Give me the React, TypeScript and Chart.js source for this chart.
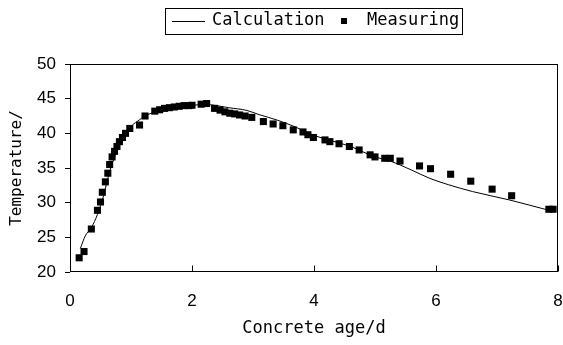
import React, { useEffect, useRef } from "react";
import { Chart, registerables } from "chart.js";

Chart.register(...registerables);

// Measured data (concrete age in days, temperature)
const measuredAge = [
  0.15, 0.23, 0.35, 0.45, 0.5, 0.53, 0.58, 0.62, 0.65, 0.69, 0.73, 0.77, 0.81, 0.86, 0.91, 0.98,
  1.14, 1.23, 1.39, 1.47, 1.55, 1.63, 1.71, 1.79, 1.87, 1.95, 2.0, 2.15, 2.24, 2.37, 2.46, 2.54,
  2.62, 2.7, 2.78, 2.87, 2.98, 3.17, 3.33, 3.49, 3.66, 3.82, 3.9, 3.99, 4.18, 4.26, 4.41, 4.58,
  4.74, 4.92, 5.0, 5.16, 5.25, 5.41, 5.73, 5.91, 6.24, 6.57, 6.92, 7.24, 7.85, 7.92,
];
const measuredTemp = [
  22.05, 22.95, 26.2, 28.9, 30.1, 31.5, 33.0, 34.25, 35.5, 36.6, 37.4, 38.1, 38.8, 39.4, 40.0, 40.7,
  41.2, 42.5, 43.2, 43.4, 43.6, 43.7, 43.8, 43.9, 44.0, 44.0, 44.05, 44.2, 44.3, 43.6, 43.35, 43.1,
  42.9, 42.8, 42.65, 42.5, 42.3, 41.7, 41.35, 41.1, 40.5, 40.2, 39.8, 39.4, 39.05, 38.8, 38.5, 38.1,
  37.6, 36.9, 36.6, 36.4, 36.4, 36.0, 35.3, 34.9, 34.1, 33.1, 31.95, 31.0, 29.05, 29.05,
];

// Calculated curve
const calcAge = [
  0.17, 0.25, 0.35, 0.45, 0.55, 0.65, 0.75, 0.85, 1.0, 1.1, 1.25, 1.5, 1.75, 2.0, 2.2, 2.4, 2.6,
  2.9, 3.1, 3.4, 3.7, 4.0, 4.3, 4.6, 5.0, 5.25, 5.6, 5.9, 6.2, 6.6, 7.2, 7.85,
];
const calcTemp = [
  23.4, 25.2, 26.4, 28.3, 31.0, 34.5, 37.0, 39.0, 41.0, 41.7, 42.6, 43.3, 43.7, 44.0, 44.2, 44.0, 43.7,
  43.3, 42.7, 41.9, 40.9, 39.7, 38.9, 38.1, 36.6, 36.0, 34.7, 33.5, 32.6, 31.6, 30.4, 28.9,
];

const xTicks = [0, 2, 4, 6, 8];
const yTicks = [20, 25, 30, 35, 40, 45, 50];
const seriesNames = ["Calculation", "Measuring"];
const xTitle = "Concrete age/d";
const yTitle = "Temperature/";

const TITLE_FONT = "'DejaVu Sans Mono', monospace";
const TICK_FONT = "'Liberation Sans', Arial, sans-serif";

const framePlugin = {
  id: "frame",
  afterDraw(chart: any) {
    const { ctx, chartArea } = chart;
    const xs = chart.scales.x;
    ctx.save();
    ctx.strokeStyle = "#000";
    ctx.lineWidth = 1;
    const l = Math.round(chartArea.left) + 0.5;
    const t = Math.round(chartArea.top) + 0.5;
    const r = Math.round(chartArea.right) - 0.5;
    const b = Math.round(chartArea.bottom) - 0.5;
    ctx.strokeRect(l, t, r - l, b - t);
    // inward x ticks
    ctx.beginPath();
    for (const v of xTicks) {
      const px = Math.round(xs.getPixelForValue(v)) + 0.5;
      ctx.moveTo(px, b);
      ctx.lineTo(px, b - 6);
    }
    ctx.stroke();

    // legend
    const lx = 165.5, ly = 8.5, lw = 297, lh = 26;
    ctx.strokeRect(lx, ly, lw, lh);
    const cy = 21;
    ctx.beginPath();
    ctx.moveTo(172, cy + 0.5);
    ctx.lineTo(205, cy + 0.5);
    ctx.stroke();
    ctx.fillStyle = "#000";
    ctx.font = `17px ${TITLE_FONT}`;
    ctx.textBaseline = "middle";
    ctx.textAlign = "left";
    ctx.fillText(seriesNames[0], 212, cy);
    ctx.fillRect(341, cy - 3, 6, 6);
    ctx.fillText(seriesNames[1], 367, cy);
    ctx.restore();
  },
};

export default function App() {
  const ref = useRef<HTMLCanvasElement | null>(null);
  useEffect(() => {
    if (!ref.current) return;
    const chart = new Chart(ref.current, {
      type: "scatter",
      data: {
        datasets: [
          {
            label: seriesNames[0],
            type: "line",
            data: calcAge.map((x, i) => ({ x, y: calcTemp[i] })),
            borderColor: "#000",
            borderWidth: 1,
            pointRadius: 0,
            cubicInterpolationMode: "monotone",
            fill: false,
          } as any,
          {
            label: seriesNames[1],
            data: measuredAge.map((x, i) => ({ x, y: measuredTemp[i] })),
            pointStyle: "rect",
            pointRadius: 5,
            backgroundColor: "#000",
            borderColor: "#000",
            borderWidth: 0,
          } as any,
        ],
      },
      options: {
        responsive: false,
        animation: false,
        layout: { padding: { left: 0, right: 5, top: 64, bottom: 0 } },
        plugins: { legend: { display: false }, tooltip: { enabled: false } },
        scales: {
          x: {
            type: "linear",
            min: 0,
            max: 8,
            afterBuildTicks: (s: any) => {
              s.ticks = xTicks.map((v) => ({ value: v }));
            },
            afterFit: (s: any) => {
              s.height = 73;
              s.paddingLeft = 0;
              s.paddingRight = 0;
            },
            grid: { display: false, drawTicks: false },
            border: { display: false },
            ticks: {
              color: "#000",
              padding: 19,
              maxRotation: 0,
              font: { family: TICK_FONT, size: 17 },
            },
            title: {
              display: true,
              text: xTitle,
              color: "#000",
              font: { family: TITLE_FONT, size: 17 },
              padding: { top: 0, bottom: 6 },
            },
          },
          y: {
            type: "linear",
            min: 20,
            max: 50,
            afterBuildTicks: (s: any) => {
              s.ticks = yTicks.map((v) => ({ value: v }));
            },
            afterFit: (s: any) => {
              s.width = 70;
              s.paddingTop = 0;
              s.paddingBottom = 0;
            },
            grid: {
              display: true,
              drawOnChartArea: false,
              drawTicks: true,
              tickLength: 5,
              color: "#000",
            },
            border: { display: false },
            ticks: {
              color: "#000",
              padding: 9,
              font: { family: TICK_FONT, size: 17 },
            },
            title: {
              display: true,
              text: yTitle,
              color: "#000",
              font: { family: TITLE_FONT, size: 16 },
              padding: { top: 7, bottom: 0 },
            },
          },
        },
      },
      plugins: [framePlugin],
    });
    return () => chart.destroy();
  }, []);
  return (
    <div style={{ position: "absolute", left: 0, top: 0, width: 563, height: 345, background: "#fff" }}>
      <canvas ref={ref} width={563} height={345} />
    </div>
  );
}
